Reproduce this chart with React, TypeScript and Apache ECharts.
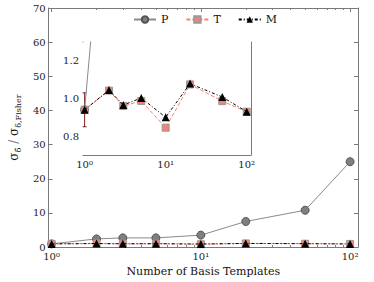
import { useEffect, useRef } from "react";
import * as echarts from "echarts";

const templates = [1, 2, 3, 5, 10, 20, 50, 100];
const pValues = [0.94, 2.4, 2.7, 2.7, 3.5, 7.5, 10.8, 25.0];
const tValues = [0.94, 1.042, 0.96, 0.987, 0.845, 1.075, 0.986, 0.93];
const mValues = [0.94, 1.045, 0.965, 1.003, 0.9, 1.079, 1.008, 0.93];
const errX = [1];
const errLow = [0.85];
const errHigh = [1.03];

const xMin = 0.955;
const xMax = 113;
const decadeTicks = [1, 10, 100];
const decadeLabels = ["10⁰", "10¹", "10²"];
const minorTickVals = [2, 3, 4, 5, 6, 7, 8, 9, 20, 30, 40, 50, 60, 70, 80, 90];
const mainYMin = 0;
const mainYMax = 70;
const mainYInterval = 10;
const insetYMin = 0.7;
const insetYMax = 1.3;
const insetYTicks = [0.8, 1.0, 1.2];

const FONT = "'DejaVu Serif', 'Liberation Serif', serif";
const AX = "#7a7a7a";
const TXT = "#222";
const lx = (v: number) => Math.log10(v);

function xAxes(grid: number, majorLen: number, minorLen: number) {
  const base: any = {
    type: "value",
    gridIndex: grid,
    min: lx(xMin),
    max: lx(xMax),
    splitLine: { show: false },
  };
  const major = (pos: string, labels: boolean) => ({
    ...base,
    position: pos,
    axisLine: { show: true, onZero: false, lineStyle: { color: AX, width: 1 } },
    axisTick: {
      show: true,
      inside: true,
      length: majorLen,
      customValues: decadeTicks.map(lx),
      lineStyle: { color: AX },
    },
    axisLabel: {
      show: labels,
      customValues: decadeTicks.map(lx),
      margin: 4,
      fontFamily: FONT,
      fontSize: 10,
      color: TXT,
      formatter: (v: number) => decadeLabels[Math.round(v)] ?? "",
    },
  });
  const minor = (pos: string) => ({
    ...base,
    position: pos,
    axisLine: { show: false, onZero: false },
    axisTick: {
      show: true,
      inside: true,
      length: minorLen,
      customValues: minorTickVals.map(lx),
      lineStyle: { color: AX },
    },
    axisLabel: { show: false },
  });
  return [major("bottom", true), major("top", false), minor("top"), minor("bottom")];
}

export default function App() {
  const ref = useRef<HTMLDivElement>(null);
  useEffect(() => {
    document.body.style.margin = "0";
    if (!ref.current) return;
    const chart = echarts.init(ref.current, undefined, { renderer: "svg" });
    const mainX = xAxes(0, 4, 2);
    mainX[0].name = "Number of Basis Templates";
    mainX[0].nameLocation = "middle";
    mainX[0].nameGap = 15;
    mainX[0].nameTextStyle = { fontFamily: FONT, fontSize: 11, color: "#111" };
    const insetX = xAxes(1, 4, 2);

    const yBase = (grid: number, pos: string, labels: boolean) => ({
      type: "value",
      gridIndex: grid,
      position: pos,
      min: mainYMin,
      max: mainYMax,
      interval: mainYInterval,
      splitLine: { show: false },
      axisLine: { show: true, onZero: false, lineStyle: { color: AX } },
      axisTick: { show: true, inside: true, length: 4, lineStyle: { color: AX } },
      axisLabel: { show: labels, fontFamily: FONT, fontSize: 10, color: TXT, margin: 3 },
    });
    const mainYL: any = yBase(0, "left", true);
    mainYL.name = "{a|σ}{s|δ\u0302} / {a|σ}{s|δ,Fisher}";
    mainYL.nameLocation = "middle";
    mainYL.nameRotate = 90;
    mainYL.nameGap = 19;
    mainYL.nameTextStyle = {
      fontFamily: FONT,
      rich: {
        a: { fontFamily: FONT, fontSize: 12, color: "#111", lineHeight: 16 },
        s: { fontFamily: FONT, fontSize: 8, color: "#111", verticalAlign: "bottom" },
      },
    };
    const mainYR = yBase(0, "right", false);

    const insetY = (pos: string, labels: boolean) => ({
      type: "value",
      gridIndex: 1,
      position: pos,
      min: insetYMin,
      max: insetYMax,
      splitLine: { show: false },
      axisLine: { show: true, onZero: false, lineStyle: { color: AX } },
      axisTick: {
        show: true,
        inside: true,
        length: 4,
        customValues: insetYTicks,
        lineStyle: { color: AX },
      },
      axisLabel: {
        show: labels,
        customValues: insetYTicks,
        formatter: (v: number) => v.toFixed(1),
        fontFamily: FONT,
        fontSize: 10,
        color: TXT,
        margin: 4,
      },
    });

    const pts = (vals: number[]) => templates.map((x, i) => [lx(x), vals[i]]);

    const mkSeries = (xi: number, yi: number) => [
      {
        name: "P",
        type: "line",
        xAxisIndex: xi,
        yAxisIndex: yi,
        data: pts(pValues),
        symbol: "circle",
        symbolSize: 8,
        lineStyle: { color: "#8a8a8a", width: 1 },
        itemStyle: { color: "#7f7f7f", borderColor: "#555", borderWidth: 1 },
        z: 3,
      },
      {
        name: "T",
        type: "line",
        xAxisIndex: xi,
        yAxisIndex: yi,
        data: pts(tValues),
        symbol: "rect",
        symbolSize: 7,
        lineStyle: { color: "#fa8072", width: 1, type: [4, 2] },
        itemStyle: { color: "#fa8072", borderColor: "#999", borderWidth: 1 },
        z: 4,
      },
      {
        name: "M",
        type: "line",
        xAxisIndex: xi,
        yAxisIndex: yi,
        data: pts(mValues),
        symbol: "triangle",
        symbolSize: 8,
        lineStyle: { color: "#000", width: 1, type: [3, 2, 1, 2] },
        itemStyle: { color: "#000" },
        z: 5,
      },
    ];

    const errSeries = {
      type: "custom",
      xAxisIndex: 4,
      yAxisIndex: 2,
      data: errX.map((x, i) => [lx(x), errLow[i], errHigh[i]]),
      renderItem: (_p: any, api: any) => {
        const lo = api.coord([api.value(0), api.value(1)]);
        const hi = api.coord([api.value(0), api.value(2)]);
        const st = { stroke: "#7a1f1f", lineWidth: 1 };
        return {
          type: "group",
          children: [
            { type: "line", shape: { x1: lo[0], y1: lo[1], x2: hi[0], y2: hi[1] }, style: st },
            { type: "line", shape: { x1: lo[0] - 2, y1: lo[1], x2: lo[0] + 2, y2: lo[1] }, style: st },
            { type: "line", shape: { x1: hi[0] - 2, y1: hi[1], x2: hi[0] + 2, y2: hi[1] }, style: st },
          ],
        };
      },
    };

    chart.setOption({
      animation: false,
      backgroundColor: "#fff",
      textStyle: { fontFamily: FONT },
      grid: [
        { left: 45, top: 8, right: 16, bottom: 34, containLabel: false },
        {
          left: 83,
          top: 42,
          width: 168,
          height: 113,
          show: true,
          backgroundColor: "#fff",
          borderWidth: 0,
          z: 10,
        },
      ],
      legend: {
        left: 133,
        top: 14,
        padding: 0,
        itemWidth: 22,
        itemHeight: 8,
        itemGap: 17,
        data: ["P", "T", "M"],
        textStyle: { fontFamily: FONT, fontSize: 11, color: "#111" },
      },
      xAxis: [...mainX, ...insetX],
      yAxis: [mainYL, mainYR, insetY("left", true), insetY("right", false)],
      series: [
        ...mkSeries(0, 0),
        ...mkSeries(4, 2).map((s) => ({ ...s, z: s.z + 10 })),
        { ...errSeries, z: 12 },
      ],
    });
    return () => chart.dispose();
  }, []);
  return <div ref={ref} style={{ width: 374, height: 282 }} />;
}
